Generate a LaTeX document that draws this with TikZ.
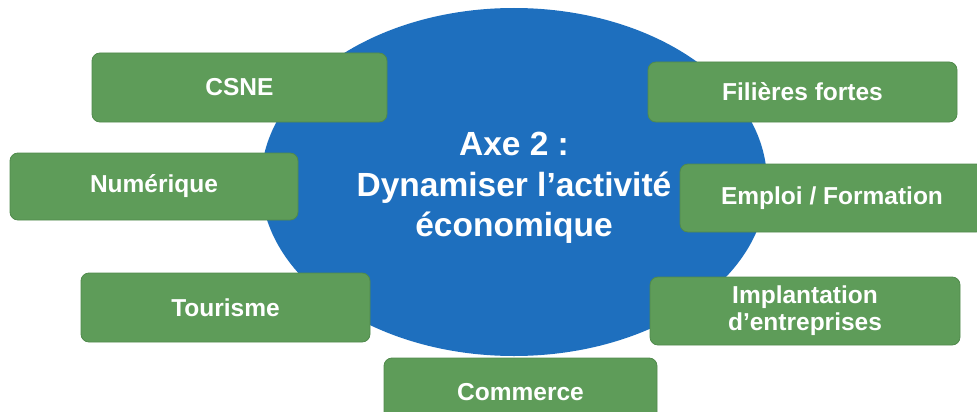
\documentclass[tikz,border=0pt]{standalone}
\usepackage{fontspec}
\setmainfont{Liberation Sans}
\usetikzlibrary{shapes.geometric}
\definecolor{axeblue}{RGB}{30,111,190}
\definecolor{themegreen}{RGB}{94,156,89}
\definecolor{themeedge}{RGB}{80,138,76}
\begin{document}
\begin{tikzpicture}[x=1pt,y=-1pt,
    axe/.style={ellipse,fill=axeblue,minimum width=506pt,
		minimum height=348pt,inner sep=0pt},
    title/.style={text=white,align=center,
		font=\bfseries\fontsize{33.5}{40.5}\selectfont},
    theme/.style={rectangle,rounded corners=8pt,fill=themegreen,
		draw=themeedge,thick,text=white,align=center,inner sep=0pt,
		font=\bfseries\fontsize{24.5}{27}\selectfont}
]
    \useasboundingbox (0,0) rectangle (977,412);
    \clip (0,0) rectangle (977,412);
    % central axis
    \node (axe) [axe] at (514,182) {};
    \node (titre) [title] at (514,188)
	{Axe 2 :\\Dynamiser l’activité\\économique};
    % themes round the axis
    \node (csne) [theme,minimum width=295pt,minimum height=69pt]
	at (239.5,87.5) {CSNE};
    \node (filieres) [theme,minimum width=309pt,minimum height=60pt]
	at (802.5,92) {Filières fortes};
    \node (numerique) [theme,minimum width=288pt,minimum height=67pt]
	at (154,186.5) {Numérique};
    \node (emploi) [theme,minimum width=304pt,minimum height=68pt]
	at (832,198) {Emploi / Formation};
    \node (tourisme) [theme,minimum width=289pt,minimum height=69pt]
	at (225.5,307.5) {Tourisme};
    \node (implantation) [theme,minimum width=310pt,minimum height=68pt]
	at (805,311) {Implantation\\d’entreprises};
    \node (commerce) [theme,minimum width=273pt,minimum height=68pt]
	at (520.5,392) {Commerce};
\end{tikzpicture}
\end{document}
